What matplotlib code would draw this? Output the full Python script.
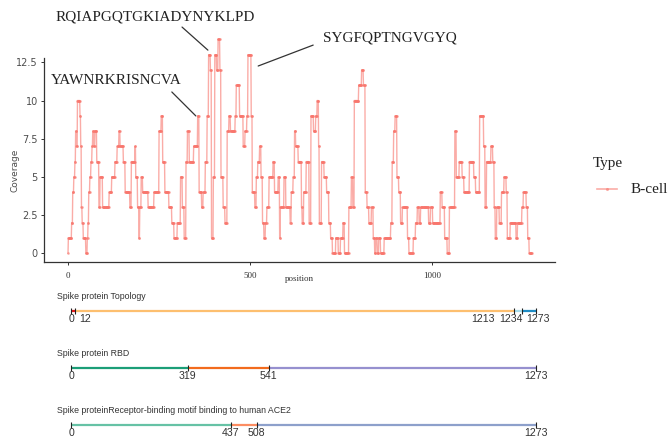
import numpy as np
import matplotlib.pyplot as plt
from matplotlib.lines import Line2D

seg_start = [0, 1, 10, 13, 16, 19, 21, 23, 26, 33, 35, 37, 39, 42, 49, 53, 55, 57, 60, 63,
             66, 68, 71, 74, 79, 85, 88, 95, 113, 120, 129, 135, 140, 143, 152, 157, 170, 174, 184, 186,
             191, 195, 197, 201, 205, 220, 236, 250, 256, 260, 266, 277, 285, 291, 300, 309, 314, 319, 324, 328,
             333, 345, 356, 360, 367, 371, 377, 382, 386, 391, 394, 399, 403, 408, 412, 417, 420, 426, 431, 437,
             442, 446, 459, 462, 471, 481, 486, 491, 494, 503, 506, 513, 517, 521, 526, 530, 534, 538, 542, 546,
             552, 563, 567, 577, 581, 583, 593, 598, 610, 613, 618, 622, 625, 632, 641, 643, 647, 654, 662, 667,
             674, 680, 684, 688, 690, 696, 703, 710, 716, 721, 726, 735, 742, 748, 755, 759, 771, 778, 782, 786,
             798, 806, 811, 816, 821, 826, 833, 838, 842, 845, 849, 853, 858, 868, 886, 890, 894, 898, 903, 908,
             913, 918, 932, 936, 948, 954, 959, 964, 968, 990, 995, 1001, 1022, 1027, 1034, 1041, 1047, 1062, 1066, 1074,
             1082, 1087, 1102, 1114, 1119, 1130, 1141, 1145, 1149, 1161, 1166, 1170, 1173, 1177, 1184, 1190, 1197, 1203, 1206, 1214,
             1230, 1234, 1246, 1250, 1258, 1262, 1266]
seg_cov = [0, 1, 2, 4, 5, 6, 8, 7, 10, 9, 7, 3, 2, 1, 0, 1, 2, 4, 5, 6,
           7, 8, 7, 8, 6, 3, 5, 3, 4, 5, 6, 7, 8, 7, 6, 4, 3, 6, 7, 5,
           3, 1, 3, 5, 4, 3, 4, 8, 9, 6, 4, 3, 2, 1, 2, 5, 3, 1, 6, 8,
           6, 7, 9, 4, 3, 4, 6, 9, 13, 12, 1, 5, 13, 12, 14, 12, 5, 3, 2, 8,
           9, 8, 9, 11, 9, 7, 8, 9, 13, 9, 4, 3, 5, 6, 7, 5, 2, 1, 2, 3,
           5, 6, 4, 5, 1, 3, 5, 3, 2, 4, 5, 8, 7, 6, 3, 2, 4, 6, 2, 9,
           8, 9, 10, 7, 2, 6, 5, 4, 2, 1, 0, 1, 0, 1, 2, 0, 3, 5, 3, 10,
           11, 12, 11, 4, 3, 2, 3, 1, 0, 1, 0, 1, 0, 1, 2, 6, 8, 9, 5, 4,
           2, 3, 1, 0, 1, 2, 3, 2, 3, 2, 3, 2, 4, 3, 1, 0, 3, 8, 5, 6,
           5, 4, 6, 5, 4, 9, 7, 3, 6, 7, 6, 3, 1, 3, 2, 4, 5, 4, 1, 2,
           1, 2, 3, 4, 3, 1, 0]
seq_len = 1273

y_ticks = [0, 2.5, 5, 7.5, 10, 12.5]
y_ticklabels = ["0", "2.5", "5", "7.5", "10", "12.5"]
x_ticks = [0, 500, 1000]

# annotated epitopes: text, text position, line start, line end (data units)
epitopes = ["RQIAPGQTGKIADYNYKLPD", "YAWNRKRISNCVA", "SYGFQPTNGVGYQ"]
epi_text_xy = [(239, 15.47), (133, 11.34), (884, 14.09)]
epi_line_from = [(313, 14.81), (285, 10.56), (673, 13.63)]
epi_line_to = [(384, 13.3), (351, 8.99), (522, 12.26)]

# region tracks
topo_breaks = [0, 12, 1213, 1234, 1273]
topo_colors = ["#E31A1C", "#FDBF6F", "#A6DCEB", "#1F8CC4"]
topo_label_x = [0, 38, 1128, 1203, 1277]
rbd_breaks = [0, 319, 541, 1273]
rbd_colors = ["#1B9E77", "#F26B1D", "#9690CF"]
ace2_breaks = [0, 437, 508, 1273]
ace2_colors = ["#66C2A5", "#FC8D62", "#8DA0CB"]

W, H = 670, 442
serif = ["Liberation Serif", "DejaVu Serif"]
narrow = ["Liberation Sans Narrow", "Liberation Sans", "DejaVu Sans"]
line_col = "#F8766D"

position = np.arange(seq_len + 1)
coverage = np.repeat(seg_cov, np.diff(seg_start + [seq_len + 1]))

fig = plt.figure(figsize=(W / 100, H / 100), dpi=100)
ax = fig.add_axes([44 / W, 1 - 262 / H, 511 / W, 227 / H])
ax.plot(position, coverage, color=line_col, alpha=0.6, lw=1.0,
        marker="o", ms=1.9, mew=0)
ax.set_xlim(-65.9, 1336.8)
ax.set_ylim(-0.57, 14.29)
for s in ["top", "right"]:
    ax.spines[s].set_visible(False)
for s in ["left", "bottom"]:
    ax.spines[s].set_color("#333333")
    ax.spines[s].set_linewidth(0.9)
ax.spines["left"].set_bounds(-0.57, 12.8)

ax.set_yticks(y_ticks)
ax.set_yticklabels(y_ticklabels)
ax.set_xticks(x_ticks)
ax.tick_params(axis="y", labelsize=7, labelcolor="#4D4D4D", color="#333333",
               length=2.5, width=0.7, pad=2)
ax.tick_params(axis="x", labelsize=6.5, labelcolor="#333333", color="#333333",
               length=2.5, width=0.7, pad=5)
for lab in ax.get_xticklabels():
    lab.set_family(serif)
ax.set_xlabel("position", family=serif, fontsize=6.5, color="#333333")
ax.xaxis.set_label_coords(0.5, -(275 - 262) / 227)
ax.set_ylabel("Coverage", fontsize=6.5, color="#4D4D4D")
ax.yaxis.set_label_coords((19 - 44) / 511, (262 - 170) / 227)

for txt, txy, p0, p1 in zip(epitopes, epi_text_xy, epi_line_from, epi_line_to):
    ax.text(txy[0], txy[1], txt, family=serif, fontsize=11, color="#222222",
            ha="center", va="center", clip_on=False)
    ax.annotate("", xy=p1, xytext=p0, annotation_clip=False,
                arrowprops=dict(arrowstyle="-", color="#333333", lw=0.9,
                                shrinkA=0, shrinkB=0))

# legend drawn by hand to sit where the ggplot guide is
fig.text(593 / W, 1 - 164 / H, "Type", family=serif, fontsize=11,
         va="center", ha="left", color="#222222")
fig.add_artist(Line2D([597 / W, 617 / W], [1 - 189 / H] * 2, color=line_col,
                      alpha=0.6, lw=1.2))
fig.add_artist(Line2D([607 / W], [1 - 189 / H], color=line_col, alpha=0.6,
                      marker="o", ms=2.2, mew=0))
fig.text(631 / W, 1 - 189 / H, "B-cell", family=serif, fontsize=11,
         va="center", ha="left", color="#222222")


def draw_track(ybar, title, breaks, colors, label_x):
    ta = fig.add_axes([40 / W, 1 - (ybar + 20) / H, 520 / W, 40 / H])
    ta.set_xlim(-84.9, 1338.6)
    ta.set_ylim(-1, 1)
    ta.axis("off")
    for i, c in enumerate(colors):
        ta.plot([breaks[i], breaks[i + 1]], [0, 0], color=c, lw=1.6,
                solid_capstyle="butt")
    ta.plot(breaks, np.zeros(len(breaks)), ls="none", marker="|", ms=4,
            mew=0.8, color="#222222")
    for b, lx in zip(breaks, label_x):
        ta.text(lx, -0.42, str(b), ha="center", va="center", fontsize=7.6,
                family=narrow, color="#333333", clip_on=False)
    ta.text(-38, 0.72, title, ha="left", va="center", fontsize=6.3,
            family=narrow, color="#333333", clip_on=False)


draw_track(311, "Spike protein Topology", topo_breaks, topo_colors, topo_label_x)
draw_track(368, "Spike protein RBD", rbd_breaks, rbd_colors, rbd_breaks)
draw_track(425, "Spike proteinReceptor-binding motif binding to human ACE2",
           ace2_breaks, ace2_colors, ace2_breaks)

fig.savefig("out.png", dpi=100)
